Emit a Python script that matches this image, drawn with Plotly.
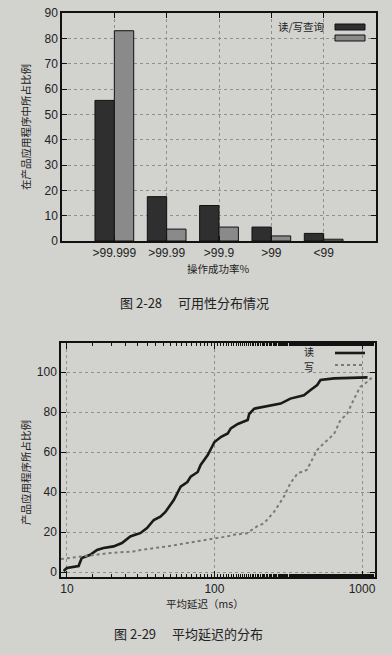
import plotly.graph_objects as go

W, H = 392, 655

# ---- Figure 2-28 data ----
categories = [">99.999", ">99.99", ">99.9", ">99", "<99"]
rw_query = [55.5, 17.5, 14.0, 5.5, 3.0]
second_series = [83.0, 4.7, 5.5, 2.0, 0.7]
bar_y_ticks = [0, 10, 20, 30, 40, 50, 60, 70, 80, 90]

# ---- Figure 2-29 data ----
read_latency = [9.5, 10, 12.0, 12.6, 14.4, 16, 17.7, 20.7, 23.6, 26.9, 29, 31.4, 34.9, 38.8,
                43, 46.5, 53, 59, 65.5, 69, 77, 80.6, 90, 100, 111, 123, 129, 144, 168, 172,
                186, 217, 281, 327, 404, 448, 497, 523, 646, 1090]
read_share = [0.5, 2, 3, 7, 8.6, 11, 12, 12.8, 14.5, 17.8, 18.6, 19.4, 22, 26,
              27.7, 30, 36, 42.7, 45, 47.7, 50, 53.5, 58.5, 65, 67.6, 69.3, 71.8, 74, 76, 79,
              81.7, 82.5, 84.2, 86.7, 88.4, 91, 93.5, 96, 96.8, 97.3]
write_latency = [9.1, 13, 19.7, 28.4, 31.5, 47.6, 65.6, 90, 122, 135, 166, 194, 217, 253,
                 296, 327, 366, 422, 461, 497, 550, 646, 715, 792, 876, 971, 1080, 1200]
write_share = [6.5, 7.8, 9.5, 10.3, 11, 12.8, 14.5, 16, 17.8, 18.6, 19.4, 22.8, 24.4, 30,
               37.7, 44.4, 49.3, 51, 56, 61, 64.3, 69, 76, 79, 86, 92.5, 95, 98]
line_y_ticks = [0, 20, 40, 60, 80, 100]
line_x_ticks = [10, 100, 1000]

PAPER = "#d2d2cf"
DARK = "#2f2f2f"
LIGHT = "#8a8a8a"
GRID = "#8f8f8f"
NUM_FONT = dict(family="Liberation Sans, Arial, sans-serif", size=12, color="#222")
CJK = "Noto Sans CJK SC, sans-serif"

def px_x(p):
    return p / W

def px_y(p):
    return 1 - p / H

fig = go.Figure()

x_idx = list(range(len(categories)))
fig.add_trace(go.Bar(x=x_idx, y=rw_query, name="读/写查询", marker=dict(color=DARK, line=dict(color="#111", width=1)),
                     xaxis="x", yaxis="y", showlegend=False))
fig.add_trace(go.Bar(x=x_idx, y=second_series, name=" ", marker=dict(color=LIGHT, line=dict(color="#111", width=1)),
                     xaxis="x", yaxis="y", showlegend=False))

fig.add_trace(go.Scatter(x=read_latency, y=read_share, mode="lines", name="读",
                         line=dict(color="#1a1a1a", width=2.6), xaxis="x2", yaxis="y2", showlegend=False))
fig.add_trace(go.Scatter(x=write_latency, y=write_share, mode="lines", name="写",
                         line=dict(color="#7a7a7a", width=2, dash="dot"), xaxis="x2", yaxis="y2", showlegend=False))

axis_common = dict(showline=True, linecolor="#111", linewidth=1.5, mirror="allticks",
                   ticks="inside", tickcolor="#111", tickfont=NUM_FONT, zeroline=False,
                   gridcolor=GRID, griddash="dot", gridwidth=1)

fig.update_layout(
    width=W, height=H,
    paper_bgcolor=PAPER, plot_bgcolor=PAPER,
    margin=dict(l=0, r=0, t=0, b=0, autoexpand=False),
    barmode="group", bargap=0.26, bargroupgap=0.0,
    xaxis=dict(domain=[px_x(62), px_x(376)], range=[-1, 5], tickmode="array",
               tickvals=x_idx, ticktext=categories, ticklen=5, showgrid=True,
               anchor="y", **axis_common),
    yaxis=dict(domain=[px_y(241), px_y(13)], range=[0, 90], tickmode="array",
               tickvals=bar_y_ticks, ticklen=5, showgrid=True, anchor="x", **axis_common),
    xaxis2=dict(domain=[px_x(61), px_x(375)], type="log", range=[0.96, 3.088],
                tickmode="array", tickvals=line_x_ticks, ticktext=[str(v) for v in line_x_ticks],
                ticklen=6, showgrid=True, anchor="y2",
                minor=dict(ticks="inside", ticklen=3, tickcolor="#111", showgrid=False),
                **axis_common),
    yaxis2=dict(domain=[px_y(577), px_y(343)], range=[-2.5, 114.5], tickmode="array",
                tickvals=line_y_ticks, ticklen=5, showgrid=True, anchor="x2", **axis_common),
)

ann = []
def text(x, y, s, size=12, angle=0, color="#222", font=CJK, xanchor="center"):
    ann.append(dict(x=px_x(x), y=px_y(y), xref="paper", yref="paper", text=s, showarrow=False,
                    textangle=angle, xanchor=xanchor, yanchor="middle",
                    font=dict(family=font, size=size, color=color)))

# Figure 2-28 texts
text(25, 127, "在产品应用程序中所占比例", size=10.5, angle=-90)
text(218, 268, "操作成功率%", size=10.5)
text(194, 302, "图 2-28　 可用性分布情况", size=13)
text(326, 26, "读/写查询", size=10.5, xanchor="right")
# Figure 2-29 texts
text(25, 473, "产品应用程序所占比例", size=10.5, angle=-90)
text(205, 603, "平均延迟（ms）", size=10.5)
text(188, 633, "图 2-29　 平均延迟的分布", size=13)
text(316, 351, "读", size=10, xanchor="right")
text(316, 366, "写", size=10, xanchor="right")
fig.update_layout(annotations=ann)

# legend swatches (drawn in gnuplot style: label left of key)
shapes = [
    dict(type="rect", xref="paper", yref="paper", x0=px_x(335), x1=px_x(365), y0=px_y(30), y1=px_y(24),
         fillcolor=DARK, line=dict(color="#111", width=1)),
    dict(type="rect", xref="paper", yref="paper", x0=px_x(335), x1=px_x(365), y0=px_y(41), y1=px_y(35),
         fillcolor=LIGHT, line=dict(color="#111", width=1)),
    dict(type="line", xref="paper", yref="paper", x0=px_x(335), x1=px_x(365), y0=px_y(353), y1=px_y(353),
         line=dict(color="#1a1a1a", width=2.6)),
    dict(type="line", xref="paper", yref="paper", x0=px_x(335), x1=px_x(365), y0=px_y(365), y1=px_y(365),
         line=dict(color="#7a7a7a", width=2, dash="dot")),
]
fig.update_layout(shapes=shapes)

fig.write_html("out.html", config={"displayModeBar": False},
               post_script="document.body.style.margin='0';document.body.style.overflow='hidden';document.body.style.background='%s';" % PAPER)
